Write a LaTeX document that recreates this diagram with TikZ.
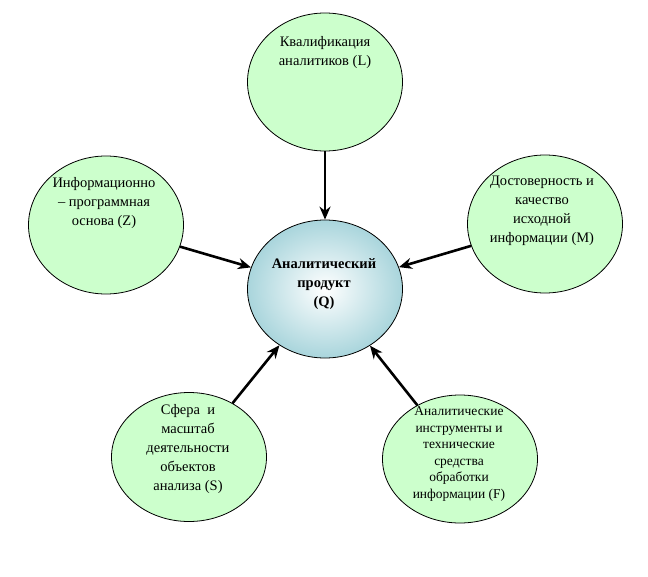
\documentclass[tikz,border=0pt]{standalone}
\usepackage{fontspec}
\setmainfont{Liberation Serif}
\usetikzlibrary{shapes.geometric,arrows.meta}
\definecolor{factorgreen}{HTML}{CCFFCC}
\definecolor{coreblue}{HTML}{A9D5DC}

\begin{document}
\begin{tikzpicture}[x=1pt,y=-1pt]
    \useasboundingbox (0,0) rectangle (648,576);
    \tikzstyle{every node}=[inner sep=0pt];
    \tikzstyle{factor}=[draw, shape=ellipse, line width=0.8pt, fill=factorgreen, minimum width=155pt, minimum height=138pt];
    \tikzstyle{txt}=[align=center, font=\fontsize{14.5}{19}\selectfont];
    \tikzstyle{link}=[line width=2.6pt, -{Stealth[length=13pt, width=11pt]}];
    % ellipses
    \node[factor, shading=radial, inner color=white, outer color=coreblue] (Q) at (325,289) {};
    \node[factor] (L) at (325,82) {};
    \node[factor] (Z) at (106,225) {};
    \node[factor] (M) at (545,224) {};
    \node[factor, minimum height=129pt] (S) at (189,457) {};
    \node[factor, minimum height=128pt] (F) at (460,459) {};
    % texts
    \node[txt, font=\bfseries\fontsize{14.5}{19}\selectfont] (Qt) at (324,284) {Аналитический\\продукт\\(Q)};
    \node[txt] (Lt) at (325,53) {Квалификация\\аналитиков (L)};
    \node[txt] (Zt) at (104,203) {Информационно\\– программная\\основа (Z)};
    \node[txt] (Mt) at (542,211) {Достоверность и\\качество\\исходной\\информации (М)};
    \node[txt] (St) at (188,449) {Сфера~ и\\масштаб\\деятельности\\объектов\\анализа (S)};
    \node[txt, font=\fontsize{13.5}{16.5}\selectfont] (Ft) at (459,454) {Аналитические\\инструменты и\\технические\\средства\\обработки\\информации (F)};
    % arrows
    \draw[link] (L) -- (Q);
    \draw[link] (Z) -- (Q);
    \draw[link] (M) -- (Q);
    \draw[link] (S) -- (Q);
    \draw[link] (F) -- (Q);
\end{tikzpicture}
\end{document}
